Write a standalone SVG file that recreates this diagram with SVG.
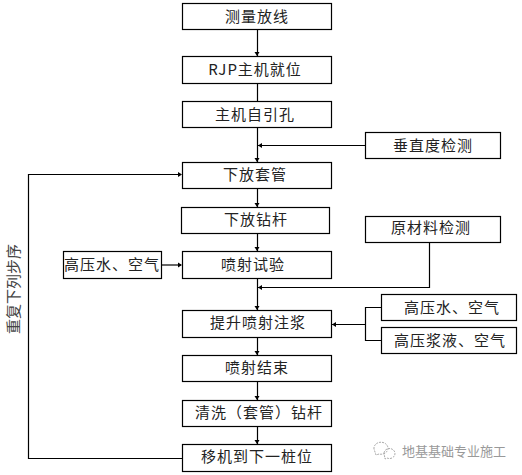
<svg xmlns="http://www.w3.org/2000/svg" width="522" height="475" viewBox="0 0 522 475">
<style>
rect.b{fill:#fff;stroke:#000;stroke-width:1.2}
text{font-family:"Noto Sans CJK SC","Liberation Sans",sans-serif;font-size:15px;fill:#222;text-anchor:middle;letter-spacing:1px}
.c path{fill:none;stroke:#000;stroke-width:1.2}
.c polygon{fill:#000}
.v{fill:#444;letter-spacing:0}
.wm{font-size:13px;fill:#999;letter-spacing:0}
.ic path{fill:none;stroke:#aaa;stroke-width:1;stroke-dasharray:2 1}
</style>
<defs>
<polygon id="ad" points="-2.500,-4 2.500,-4 0,0"/>
<polygon id="al" points="4,-2.500 4,2.500 0,0"/>
<polygon id="ar" points="-4,-2.500 -4,2.500 0,0"/>
</defs>
<rect width="522" height="475" fill="#fff"/>
<g class="c" id="connectors">
<path d="M257.500 29.500V56M257.500 83V101.500M257.500 127V162M257.500 188V207M257.500 233V251M257.500 278.500V310M257.500 337.500V355M257.500 381.500V400M257.500 426V444"/>
<path d="M365.500 145.500H258"/>
<path d="M182 458.500H28.500V174.500H181"/>
<path d="M161.500 265H181"/>
<path d="M429.500 242.500V287.500H258"/>
<path d="M381.500 307.500H365.500V340.500H381.500M365.500 324.500H332"/>
<use href="#ad" x="257" y="56"/><use href="#ad" x="257" y="162"/><use href="#ad" x="257" y="207"/><use href="#ad" x="257" y="251"/><use href="#ad" x="257" y="310"/><use href="#ad" x="257" y="355"/><use href="#ad" x="257" y="400"/><use href="#ad" x="257" y="444"/>
<use href="#al" x="258" y="145.500"/><use href="#al" x="258" y="287.500"/><use href="#al" x="332" y="324.500"/>
<use href="#ar" x="182" y="174.500"/><use href="#ar" x="182" y="265"/>
</g>
<g id="n1"><rect class="b" x="182.500" y="3.500" width="149" height="26"/><text x="257" y="22">测量放线</text></g>
<g id="n2"><rect class="b" x="182.500" y="56.500" width="149" height="27"/><text x="255" y="75">RJP主机就位</text></g>
<g id="n3"><rect class="b" x="182.500" y="101.500" width="149" height="26"/><text x="255" y="120">主机自引孔</text></g>
<g id="n4"><rect class="b" x="365.500" y="132.500" width="135" height="26"/><text x="433" y="151">垂直度检测</text></g>
<g id="n5"><rect class="b" x="182.500" y="162.500" width="149" height="26"/><text x="255" y="180">下放套管</text></g>
<g id="n6"><rect class="b" x="181.500" y="207.500" width="148" height="26"/><text x="256" y="225">下放钻杆</text></g>
<g id="n7"><rect class="b" x="365.500" y="216.500" width="135" height="26"/><text x="431" y="233">原材料检测</text></g>
<g id="n8"><rect class="b" x="63.500" y="251.500" width="98" height="27"/><text x="112" y="270">高压水、空气</text></g>
<g id="n9"><rect class="b" x="182.500" y="251.500" width="149" height="27"/><text x="253" y="270">喷射试验</text></g>
<g id="n10"><rect class="b" x="381.500" y="294.500" width="135" height="26"/><text x="452" y="313">高压水、空气</text></g>
<g id="n11"><rect class="b" x="381.500" y="327.500" width="135" height="26"/><text x="450" y="346">高压浆液、空气</text></g>
<g id="n12"><rect class="b" x="182.500" y="310.500" width="149" height="27"/><text x="258" y="328">提升喷射注浆</text></g>
<g id="n13"><rect class="b" x="182.500" y="355.500" width="149" height="26"/><text x="257" y="373">喷射结束</text></g>
<g id="n14"><rect class="b" x="182.500" y="400.500" width="149" height="26"/><text x="259" y="418">清洗（套管）钻杆</text></g>
<g id="n15"><rect class="b" x="182.500" y="444.500" width="149" height="27"/><text x="257" y="462">移机到下一桩位</text></g>
<text class="v" x="0" y="0" transform="translate(18.500 289) rotate(-90)">重复下列步序</text>
<g id="watermark">
<g class="ic"><path d="M374 449a7 6 0 1 1 5 5l-3 1zM384 453a5.500 5 0 1 1 3 5l-2 1z"/></g>
<text class="wm" x="454" y="456">地基基础专业施工</text>
</g>
</svg>
